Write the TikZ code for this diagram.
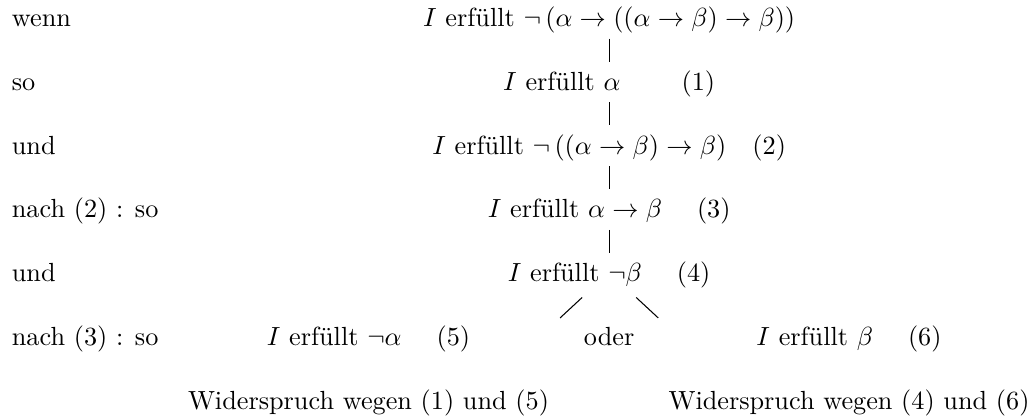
\documentclass[tikz,border=0pt]{standalone}

\begin{document}
\begin{tikzpicture}[
    formel/.style={anchor=base},
    hinweis/.style={anchor=base west},
    kante/.style={shorten <=-1.5pt}]
    \useasboundingbox (0,0) rectangle (13.883,-5.613);

    % linke Spalte
    \node[hinweis] (wenn) at (0.035,-0.358) {wenn};
    \node[hinweis] (so1) at (0.035,-1.212) {so};
    \node[hinweis] (und1) at (0.035,-2.066) {und};
    \node[hinweis] (nach2) at (0.035,-2.920) {nach (2) : so};
    \node[hinweis] (und2) at (0.035,-3.774) {und};
    \node[hinweis] (nach3) at (0.035,-4.628) {nach (3) : so};

    % Ableitung
    \node[formel] (f0) at (8.163,-0.358) {$I$ erfüllt $\neg\,(\alpha \rightarrow ((\alpha \rightarrow \beta) \rightarrow \beta))$};
    \node[formel] (f1) at (8.163,-1.212) {$I$ erfüllt $\alpha$\qquad\ (1)};
    \node[formel] (f2) at (8.163,-2.066) {$I$ erfüllt $\neg\,((\alpha \rightarrow \beta) \rightarrow \beta)$\quad(2)};
    \node[formel] (f3) at (8.163,-2.920) {$I$ erfüllt $\alpha \rightarrow \beta$\quad\ (3)};
    \node[formel] (f4) at (8.163,-3.774) {$I$ erfüllt $\neg\beta$\quad\ (4)};
    \node[formel] (f5) at (4.938,-4.628) {$I$ erfüllt $\neg\alpha$\quad\ (5)};
    \node[formel] (oder) at (8.163,-4.628) {oder};
    \node[formel] (f6) at (11.377,-4.628) {$I$ erfüllt $\beta$\quad\ (6)};
    \node[formel] (w5) at (4.938,-5.482) {Widerspruch wegen (1) und (5)};
    \node[formel] (w6) at (11.377,-5.482) {Widerspruch wegen (4) und (6)};

    \draw[kante] (f0) -- (f1);
    \draw[kante] (f1) -- (f2);
    \draw[kante] (f2) -- (f3);
    \draw[kante] (f3) -- (f4);
    \draw ([xshift=-10.3pt]f4.south) -- ([xshift=-18.7pt]oder.north);
    \draw ([xshift=10.3pt]f4.south) -- ([xshift=18.7pt]oder.north);
\end{tikzpicture}
\end{document}
